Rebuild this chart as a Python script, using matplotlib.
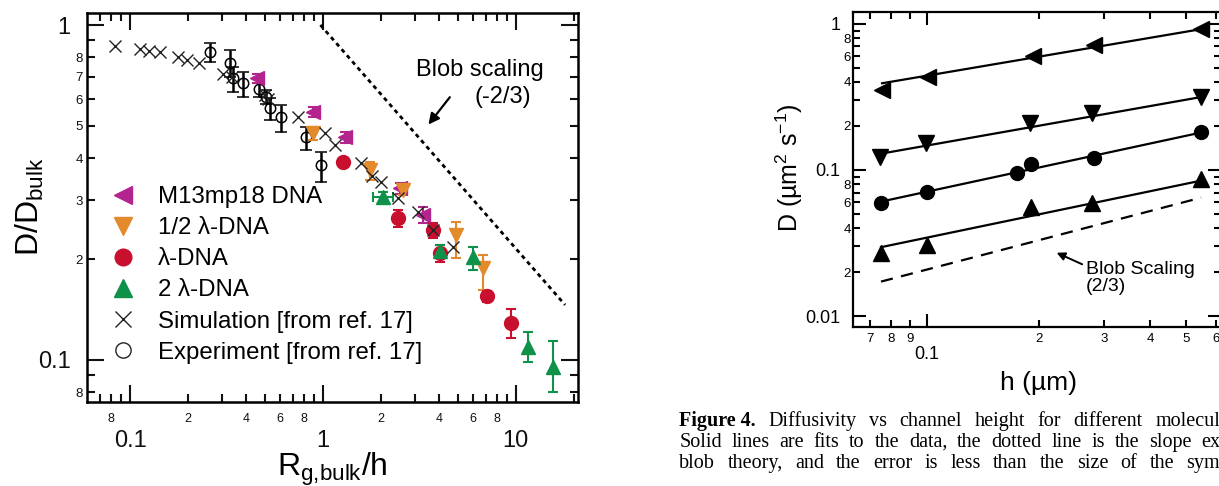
import numpy as np
import matplotlib
matplotlib.use("Agg")
import matplotlib.pyplot as plt
from matplotlib.ticker import FixedLocator, FixedFormatter
from matplotlib.lines import Line2D

plt.rcParams['font.family'] = ['Liberation Sans', 'DejaVu Sans']
plt.rcParams['mathtext.fontset'] = 'custom'
plt.rcParams['mathtext.rm'] = 'Liberation Sans'
plt.rcParams['mathtext.it'] = 'Liberation Sans:italic'
plt.rcParams['mathtext.bf'] = 'Liberation Sans:bold'
plt.rcParams['mathtext.default'] = 'regular'

# ---------------- left panel data ----------------
sim_x = [0.084, 0.113, 0.126, 0.143, 0.178, 0.197, 0.229, 0.304, 0.336, 0.50, 0.52,
         0.745, 1.02, 1.15, 1.58, 1.79, 2.01, 2.46, 3.12, 3.73, 4.74]
sim_y = [0.868, 0.846, 0.838, 0.829, 0.804, 0.786, 0.768, 0.714, 0.698, 0.62, 0.60,
         0.532, 0.475, 0.438, 0.387, 0.353, 0.341, 0.304, 0.277, 0.244, 0.218]

exp_x = [0.26, 0.33, 0.343, 0.387, 0.467, 0.505, 0.53, 0.606, 0.814, 0.98]
exp_y = [0.83, 0.768, 0.693, 0.670, 0.643, 0.611, 0.564, 0.530, 0.464, 0.382]
exp_lo = [0.053, 0.070, 0.060, 0.059, 0.035, 0.030, 0.042, 0.050, 0.040, 0.042]
exp_hi = [0.052, 0.074, 0.055, 0.055, 0.045, 0.030, 0.042, 0.047, 0.033, 0.037]

m13_x = [0.453, 0.89, 1.30, 2.51, 3.31]
m13_y = [0.693, 0.551, 0.462, 0.325, 0.271]
m13_err = [0.020, 0.020, 0.018, 0.012, 0.015]

half_x = [0.89, 1.75, 2.61, 4.92, 6.77]
half_y = [0.475, 0.369, 0.322, 0.236, 0.188]
half_lo = [0.020, 0.025, 0.012, 0.035, 0.026]
half_hi = [0.020, 0.022, 0.012, 0.023, 0.018]

lam_x = [1.27, 2.46, 3.73, 4.04, 7.05, 9.4]
lam_y = [0.391, 0.265, 0.244, 0.208, 0.155, 0.129]
lam_err = [0.010, 0.015, 0.013, 0.012, 0.006, 0.013]

two_x = [2.05, 4.04, 6.01, 11.6, 15.6]
two_y = [0.307, 0.211, 0.203, 0.1096, 0.0955]
two_lo = [0.010, 0.010, 0.017, 0.011, 0.0155]
two_hi = [0.010, 0.010, 0.015, 0.012, 0.0185]
two_xlo = [0.23, 0, 0, 0, 0]
two_xhi = [0.25, 0, 0, 0, 0]

blob_left_x = [0.97, 18.0]
blob_left_y = [1.0, 0.146]

# ---------------- right panel data ----------------
h_m13 = [0.0756, 0.1004, 0.193, 0.282, 0.548]
D_m13 = [0.353, 0.431, 0.604, 0.718, 0.92]
fit_m13 = [0.392, 0.92]

h_half = [0.0748, 0.0996, 0.189, 0.279, 0.546]
D_half = [0.123, 0.152, 0.209, 0.245, 0.318]
fit_half = [0.129, 0.315]

h_lam = [0.0751, 0.1, 0.175, 0.19, 0.282, 0.546]
D_lam = [0.0592, 0.0703, 0.096, 0.110, 0.120, 0.183]
fit_lam = [0.0607, 0.180]

h_two = [0.0751, 0.1, 0.19, 0.279, 0.548]
D_two = [0.0269, 0.0306, 0.0561, 0.0597, 0.0863]
fit_two = [0.0296, 0.0845]

blob_right_h = [0.0751, 0.548]
blob_right_D = [0.0172, 0.0646]

# ---------------- caption text ----------------
caption_lines = [
    ['Figure 4.', 'Diffusivity', 'vs', 'channel', 'height', 'for', 'different', 'molecules.'],
    ['Solid', 'lines', 'are', 'fits', 'to', 'the', 'data,', 'the', 'dotted', 'line', 'is', 'the',
     'slope', 'expected'],
    ['blob', 'theory,', 'and', 'the', 'error', 'is', 'less', 'than', 'the', 'size', 'of', 'the',
     'symbols.'],
]
caption_cut = ['molecul', 'ex', 'sym']

MAG = '#B3248F'
ORA = '#E38B2C'
RED = '#C8102E'
GRN = '#0F914A'

W, H = 1219, 486
fig = plt.figure(figsize=(W / 100, H / 100), dpi=100)


def box(x0, y0, x1, y1):
    return [x0 / W, 1 - y1 / H, (x1 - x0) / W, (y1 - y0) / H]


# ================= LEFT PANEL =================
ax = fig.add_axes(box(87.3, 13, 578, 402))
ax.set_xscale('log')
ax.set_yscale('log')
ax.set_xlim(0.060, 21)
ax.set_ylim(0.0749, 1.086)

ax.errorbar(exp_x, exp_y, yerr=[exp_lo, exp_hi], fmt='o', mfc='none', mec='k',
            ms=7.5, mew=1.1, ecolor='k', elinewidth=1.8, capsize=4, capthick=1.8, zorder=3)
ax.errorbar(m13_x, m13_y, yerr=m13_err, fmt='<', color=MAG, ms=10.5, mec=MAG,
            elinewidth=1.5, capsize=3.5, capthick=1.5, zorder=4)
ax.errorbar(half_x, half_y, yerr=[half_lo, half_hi], fmt='v', color=ORA, ms=10.5, mec=ORA,
            elinewidth=1.5, capsize=3.5, capthick=1.5, zorder=4)
ax.errorbar(lam_x, lam_y, yerr=lam_err, fmt='o', color=RED, ms=10, mec=RED,
            elinewidth=1.5, capsize=3.5, capthick=1.5, zorder=4)
ax.errorbar(two_x, two_y, yerr=[two_lo, two_hi], xerr=[two_xlo, two_xhi], fmt='^', color=GRN,
            ms=10.5, mec=GRN, elinewidth=1.5, capsize=3.5, capthick=1.5, zorder=4)
ax.plot(sim_x, sim_y, 'x', color='#222222', ms=9, mew=1.0, zorder=5)

ax.plot(blob_left_x, blob_left_y, color='k', lw=2.0, ls=(0, (1.5, 1.4)))
ax.annotate('', xy=(3.45, 0.497), xytext=(4.64, 0.618),
            arrowprops=dict(arrowstyle='-|>', color='k', lw=1.6, mutation_scale=16))
ax.text(6.5, 0.734, 'Blob scaling', ha='center', va='center', fontsize=17)
ax.text(8.57, 0.611, '(-2/3)', ha='center', va='center', fontsize=17)

# ticks
xmaj = [0.1, 1, 10]
xmin = [0.07, 0.08, 0.09] + [0.2, 0.3, 0.4, 0.5, 0.6, 0.7, 0.8, 0.9] + \
       [2, 3, 4, 5, 6, 7, 8, 9, 20]
xmin_lab = ['', '8', '', '2', '', '4', '', '6', '', '8', '', '2', '', '4', '', '6', '', '8', '', '']
ymaj = [0.1, 1]
ymin = [0.08, 0.09, 0.2, 0.3, 0.4, 0.5, 0.6, 0.7, 0.8, 0.9]
ymin_lab = ['8', '', '2', '3', '4', '5', '6', '7', '8', '']
ax.xaxis.set_major_locator(FixedLocator(xmaj))
ax.xaxis.set_major_formatter(FixedFormatter(['0.1', '1', '10']))
ax.xaxis.set_minor_locator(FixedLocator(xmin))
ax.xaxis.set_minor_formatter(FixedFormatter(xmin_lab))
ax.yaxis.set_major_locator(FixedLocator(ymaj))
ax.yaxis.set_major_formatter(FixedFormatter(['0.1', '1']))
ax.yaxis.set_minor_locator(FixedLocator(ymin))
ax.yaxis.set_minor_formatter(FixedFormatter(ymin_lab))
ax.tick_params(which='both', direction='in', top=True, right=True, width=1.5, colors='#111111')
ax.tick_params(which='major', length=12)
ax.tick_params(which='minor', length=6)
ax.tick_params(axis='x', which='major', pad=20, labelsize=17)
ax.tick_params(axis='x', which='minor', pad=8, labelsize=9)
ax.tick_params(axis='y', which='major', pad=12, labelsize=17)
ax.tick_params(axis='y', which='minor', pad=3, labelsize=9.5)
for s in ax.spines.values():
    s.set_linewidth(1.8)

fig.text(30 / W, 1 - 207 / H, 'D/D$_{bulk}$', rotation=90, ha='center', va='center', fontsize=23)
fig.text(332 / W, 1 - 476 / H, 'R$_{g{,}bulk}$/h', ha='center', va='baseline', fontsize=23)

handles = [
    Line2D([], [], ls='none', marker='<', color=MAG, ms=13),
    Line2D([], [], ls='none', marker='v', color=ORA, ms=13),
    Line2D([], [], ls='none', marker='o', color=RED, ms=12),
    Line2D([], [], ls='none', marker='^', color=GRN, ms=13),
    Line2D([], [], ls='none', marker='x', color='#222222', ms=12, mew=1.0),
    Line2D([], [], ls='none', marker='o', mfc='none', mec='#222222', ms=11, mew=1.0),
]
labels = ['M13mp18 DNA', '1/2 λ-DNA', 'λ-DNA', '2 λ-DNA',
          'Simulation [from ref. 17]', 'Experiment [from ref. 17]']
fig.legend(handles, labels, loc='upper left', bbox_to_anchor=(112 / W, 1 - 186 / H),
           frameon=False, fontsize=17.3, handlelength=0.95, handletextpad=0.95,
           labelspacing=0.38, borderpad=0, borderaxespad=0)

# ================= RIGHT PANEL =================
bx = fig.add_axes(box(852.7, 12.3, 1221, 326.7))
bx.set_xscale('log')
bx.set_yscale('log')
bx.set_xlim(0.063, 0.62)
bx.set_ylim(0.00845, 1.2)

for hs, Ds, fit, mk in [(h_m13, D_m13, fit_m13, '<'), (h_half, D_half, fit_half, 'v'),
                        (h_lam, D_lam, fit_lam, 'o'), (h_two, D_two, fit_two, '^')]:
    bx.plot([hs[0], hs[-1]], fit, color='k', lw=1.6)
    bx.plot(hs, Ds, ls='none', marker=mk, color='k', ms=11 if mk != 'o' else 10)
bx.plot(blob_right_h, blob_right_D, color='k', lw=1.6, ls=(0, (5.5, 3.8)))
bx.annotate('', xy=(0.22, 0.0276), xytext=(0.266, 0.0222),
            arrowprops=dict(arrowstyle='-|>', color='k', lw=1.4, mutation_scale=12))
bx.text(0.268, 0.0238, 'Blob Scaling\n(2/3)', ha='left', va='top', fontsize=14, linespacing=1.0)

bxmaj = [0.1]
bxmin = [0.07, 0.08, 0.09, 0.2, 0.3, 0.4, 0.5, 0.6]
bxmin_lab = ['7', '8', '9', '2', '3', '4', '5', '6']
bymaj = [0.01, 0.1, 1]
bymin = [0.02, 0.03, 0.04, 0.05, 0.06, 0.07, 0.08, 0.09,
         0.2, 0.3, 0.4, 0.5, 0.6, 0.7, 0.8, 0.9]
bymin_lab = ['2', '', '4', '', '6', '', '8', '', '2', '', '4', '', '6', '', '8', '']
bx.xaxis.set_major_locator(FixedLocator(bxmaj))
bx.xaxis.set_major_formatter(FixedFormatter(['0.1']))
bx.xaxis.set_minor_locator(FixedLocator(bxmin))
bx.xaxis.set_minor_formatter(FixedFormatter(bxmin_lab))
bx.yaxis.set_major_locator(FixedLocator(bymaj))
bx.yaxis.set_major_formatter(FixedFormatter(['0.01', '0.1', '1']))
bx.yaxis.set_minor_locator(FixedLocator(bymin))
bx.yaxis.set_minor_formatter(FixedFormatter(bymin_lab))
bx.tick_params(which='both', direction='in', top=True, right=True, width=1.5)
bx.tick_params(which='major', length=9.5)
bx.tick_params(which='minor', length=5)
bx.tick_params(axis='x', which='major', pad=14, labelsize=13)
bx.tick_params(axis='x', which='minor', pad=4.5, labelsize=9.5)
bx.tick_params(axis='y', which='major', pad=9, labelsize=13)
bx.tick_params(axis='y', which='minor', pad=1.5, labelsize=9.5)
for s in bx.spines.values():
    s.set_linewidth(1.6)

fig.text(1039 / W, 1 - 389.5 / H, 'h (µm)', ha='center', va='baseline', fontsize=19)
fig.text(789 / W, 1 - 168 / H, 'D (µm$^{2}$ s$^{-1}$)', rotation=90, ha='center', va='center',
         fontsize=18)

# ================= caption (justified, cut at the right edge) =================
renderer = fig.canvas.get_renderer()
cap_kw = dict(family=['Liberation Serif', 'DejaVu Serif'], fontsize=14.5, va='baseline', ha='left')


def width_px(s, bold=False):
    t = fig.text(0, 0, s, fontweight='bold' if bold else 'normal', **cap_kw)
    w = t.get_window_extent(renderer).width
    t.remove()
    return w


x_start, x_cut = 679.3, 1220
for words, cut, yb in zip(caption_lines, caption_cut, [425.5, 446.5, 467.5]):
    widths = [width_px(w, bold=(w == 'Figure 4.')) for w in words[:-1]]
    last_start = x_cut - width_px(cut)
    gap = (last_start - x_start - sum(widths)) / (len(words) - 1)
    xp = x_start
    for i, w in enumerate(words):
        if i == len(words) - 1:
            xp = last_start
        fig.text(xp / W, 1 - yb / H, w, fontweight='bold' if w == 'Figure 4.' else 'normal',
                 **cap_kw)
        if i < len(words) - 1:
            xp += widths[i] + gap

fig.savefig('out.png', dpi=100)
